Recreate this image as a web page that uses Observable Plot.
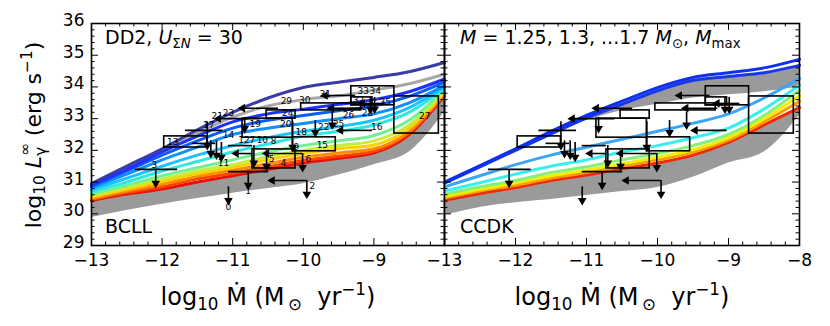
<!DOCTYPE html>
<html><head><meta charset="utf-8">
<script src="https://cdn.jsdelivr.net/npm/d3@7"></script>
<script src="https://cdn.jsdelivr.net/npm/@observablehq/plot@0.6"></script>
<style>
body{margin:0;background:#fff;}
#wrap{position:relative;width:830px;height:326px;font-family:"DejaVu Sans",sans-serif;overflow:hidden;background:#fff;}
#wrap svg{position:absolute;top:0;}
.t{position:absolute;white-space:nowrap;color:#000;line-height:1;font-family:"DejaVu Sans",sans-serif;}
.sb{font-size:70%;vertical-align:-0.3em;}
.sp{font-size:70%;vertical-align:0.55em;}
</style></head><body><div id="wrap"></div>
<script>
// ---------- data ----------
const mdot = [-13, -12.5, -12, -11.5, -11, -10.5, -10, -9.5, -9, -8.5, -8];
const xTickLabelsLeft = [-13, -12, -11, -10, -9];
const xTickLabelsRight = [-13, -12, -11, -10, -9, -8];
const yTickLabels = [29, 30, 31, 32, 33, 34, 35, 36];

// BCLL panel curves (log10 L at each mdot)
const bcllColors = ["#e81008", "#ff4400", "#ff8c00", "#ffd000", "#c4f03c", "#74f094", "#30e8e0", "#18c4ff", "#1090ff", "#0a5cff", "#2030ff", "#3b3ba6"];
const bcll0 = [30.42, 30.62, 30.78, 31.00, 31.20, 31.40, 31.60, 31.75, 31.92, 32.50, 33.72];
const bcll1 = [30.45, 30.67, 30.85, 31.10, 31.28, 31.48, 31.68, 31.82, 31.97, 32.55, 33.76];
const bcll2 = [30.48, 30.72, 30.93, 31.18, 31.37, 31.58, 31.78, 31.92, 32.05, 32.60, 33.80];
const bcll3 = [30.53, 30.78, 31.02, 31.27, 31.47, 31.70, 31.90, 32.05, 32.17, 32.70, 33.84];
const bcll4 = [30.57, 30.84, 31.10, 31.35, 31.55, 31.80, 32.00, 32.15, 32.30, 32.80, 33.88];
const bcll5 = [30.62, 30.90, 31.20, 31.45, 31.70, 31.95, 32.15, 32.30, 32.47, 32.95, 33.92];
const bcll6 = [30.70, 31.00, 31.35, 31.65, 31.95, 32.20, 32.45, 32.60, 32.80, 33.20, 33.95];
const bcll7 = [30.76, 31.12, 31.50, 31.85, 32.15, 32.40, 32.60, 32.75, 32.95, 33.35, 34.00];
const bcll8 = [30.82, 31.25, 31.70, 32.10, 32.50, 32.70, 32.85, 33.00, 33.15, 33.50, 34.05];
const bcll9 = [30.87, 31.35, 31.85, 32.30, 32.70, 32.95, 33.10, 33.25, 33.40, 33.70, 34.15];
const bcll10 = [30.90, 31.40, 31.95, 32.45, 32.90, 33.15, 33.30, 33.45, 33.60, 33.85, 34.25];
const bcll11 = [30.95, 31.50, 32.05, 32.65, 33.20, 33.65, 33.98, 34.15, 34.30, 34.48, 34.77];
const bcllGray = [30.92, 31.45, 32.00, 32.55, 33.05, 33.40, 33.60, 33.72, 33.90, 34.10, 34.40];
const bcllBandLow = [29.88, 30.10, 30.30, 30.48, 30.65, 30.80, 30.95, 31.22, 31.55, 31.95, 33.20];

// CCDK panel curves
const ccdkColors = ["#f02a00", "#ff9a00", "#f0f000", "#86f07a", "#3aeef0", "#3aa6f5", "#1838e8", "#1030f0"];
const ccdk0 = [30.43, 30.64, 30.83, 31.05, 31.22, 31.42, 31.60, 31.85, 32.25, 32.80, 33.35];
const ccdk1 = [30.50, 30.72, 30.90, 31.12, 31.30, 31.50, 31.70, 31.95, 32.32, 32.90, 33.55];
const ccdk2 = [30.55, 30.77, 30.97, 31.20, 31.38, 31.58, 31.78, 32.02, 32.40, 33.00, 33.72];
const ccdk3 = [30.62, 30.85, 31.05, 31.30, 31.48, 31.70, 31.90, 32.15, 32.50, 33.10, 33.90];
const ccdk4 = [30.72, 30.98, 31.25, 31.50, 31.70, 31.95, 32.15, 32.40, 32.70, 33.30, 34.05];
const ccdk5 = [30.85, 31.20, 31.55, 31.85, 32.10, 32.35, 32.60, 32.85, 33.15, 33.65, 34.27];
const ccdk6 = [30.97, 31.48, 32.00, 32.52, 33.02, 33.45, 33.88, 34.20, 34.33, 34.45, 34.68];
const ccdk7 = [31.00, 31.52, 32.05, 32.60, 33.10, 33.55, 33.98, 34.30, 34.45, 34.60, 34.87];
const ccdkBandLow = [29.95, 30.20, 30.35, 30.45, 30.58, 30.70, 30.83, 31.15, 31.60, 31.95, 33.10];
const ccdkUpperBandLow = [null, null, null, null, 32.95, 33.25, 33.45, 33.65, 33.75, 33.85, 34.00];

// observational sources: boxes [mdot1, mdot2, L1, L2]
const boxes = [
  [-11.97, -11.36, 32.09, 32.44],
  [-10.72, -10.11, 31.43, 32.03],
  [-10.15, -9.54, 31.97, 32.41],
  [-8.71, -8.08, 32.53, 33.70],
  [-9.32, -8.71, 33.42, 34.02],
  [-9.32, -9.02, 33.42, 33.67],
  [-10.52, -10.11, 33.00, 33.26],
  [-10.86, -10.15, 32.40, 33.00],
  [-10.03, -9.18, 33.26, 33.48]
];
// mdot ranges [mdot1, mdot2, L]
const hbars = [
  [-12.38, -11.78, 31.40],
  [-11.06, -10.49, 31.33],
  [-11.67, -11.14, 32.63],
  [-11.57, -11.24, 32.22],
  [-11.06, -10.72, 32.15]
];
// mdot upper limits [mdot, arrow end, L]
const leftArrows = [
  [-9.95, -10.44, 31.05],
  [-10.01, -10.52, 31.90],
  [-9.02, -9.47, 32.63],
  [-9.26, -9.69, 33.73],
  [-9.15, -9.60, 33.33],
  [-10.35, -10.86, 33.33],
  [-10.60, -11.20, 33.00],
  [-10.72, -10.95, 31.90],
  [-8.84, -9.16, 33.48]
];
// L upper limits [mdot, L, arrow end]
const downArrows = [
  [-11.06, 30.85, 30.42],
  [-10.78, 31.33, 30.90],
  [-9.95, 31.05, 30.62],
  [-12.09, 31.40, 30.96],
  [-10.52, 32.00, 31.50],
  [-10.01, 31.90, 31.46],
  [-10.70, 32.15, 31.60],
  [-11.16, 32.25, 31.78],
  [-11.36, 32.90, 32.15],
  [-11.31, 32.30, 31.90],
  [-11.23, 32.30, 31.85],
  [-10.83, 33.04, 32.69],
  [-9.83, 32.94, 32.56],
  [-9.59, 33.20, 32.80],
  [-9.05, 33.67, 33.30],
  [-8.99, 33.67, 33.30],
  [-10.15, 32.90, 32.10]
];
// source numbers [text, mdot, L]
const srcLabels = [
  ["0", -11.06, 30.20], ["1", -10.78, 30.70], ["2", -9.87, 30.86], ["3", -12.11, 31.55],
  ["4", -10.28, 31.59], ["5", -10.45, 31.71], ["6", -9.93, 31.71], ["7", -10.72, 32.31],
  ["8", -10.42, 32.30], ["9", -10.10, 32.09], ["10", -10.58, 32.31], ["11", -11.13, 31.59],
  ["12", -10.84, 32.33], ["13", -11.85, 32.25], ["14", -11.06, 32.47], ["15", -9.73, 32.15],
  ["16", -8.96, 32.72], ["17", -11.34, 32.79], ["18", -10.03, 32.56], ["19", -10.68, 32.82],
  ["20", -10.25, 32.84], ["21", -11.22, 33.07], ["22", -9.71, 32.72], ["23", -11.06, 33.16],
  ["24", -10.22, 33.17], ["25", -9.50, 32.82], ["26", -9.36, 33.10], ["27", -8.28, 33.07],
  ["28", -9.09, 33.16], ["29", -10.24, 33.54], ["30", -9.98, 33.57], ["31", -9.69, 33.76],
  ["32", -9.22, 33.57], ["33", -9.15, 33.86], ["34", -8.98, 33.86], ["35", -8.84, 33.51]
];

// ---------- drawing ----------
const H = 326, MT = 23, MB = 81;
const wrap = document.getElementById("wrap");

function panel({left, width, mL, mR, curves, colors, bandLow, grayLines, upperBand, yLabels, xLabels, labels}) {
  const pxX = (width - mL - mR) / 5, pxY = (H - MT - MB) / 7;
  const maj = 7, mnr = 3.5;
  const xMaj = d3.range(-13, -7.99, 1);
  const xMin = d3.range(0, 26).map(i => -13 + i * 0.2).filter(v => Math.abs(v - Math.round(v)) > 1e-6);
  const yMaj = d3.range(29, 36.01, 1);
  const yMin = d3.range(0, 36).map(i => 29 + i * 0.2).filter(v => Math.abs(v - Math.round(v)) > 1e-6);
  const bot = curves[0];
  const marks = [
    Plot.areaY(mdot, {x: d => d, y1: (d, i) => bandLow[i], y2: (d, i) => bot[i] - 0.02, fill: "#9a9a9a", curve: "monotone-x"})
  ];
  if (upperBand) {
    marks.push(Plot.areaY(mdot, {x: d => d, y1: (d, i) => upperBand.low[i], y2: (d, i) => upperBand.high[i], fill: "#9a9a9a", curve: "monotone-x", filter: (d, i) => upperBand.low[i] != null}));
  }
  for (const g of grayLines) marks.push(Plot.line(mdot, {x: d => d, y: (d, i) => g[i], stroke: "#a8a8a8", strokeWidth: 3, curve: "monotone-x"}));
  curves.forEach((c, k) => marks.push(Plot.line(mdot, {x: d => d, y: (d, i) => c[i], stroke: colors[k], strokeWidth: 3, curve: "monotone-x"})));
  // sources
  marks.push(
    Plot.rect(boxes, {x1: d => d[0], x2: d => d[1], y1: d => d[2], y2: d => d[3], fill: "none", stroke: "black", strokeWidth: 1.6}),
    Plot.ruleY(hbars, {y: d => d[2], x1: d => d[0], x2: d => d[1], stroke: "black", strokeWidth: 1.6}),
    Plot.ruleY(leftArrows, {y: d => d[2], x1: d => d[0], x2: d => d[1], stroke: "black", strokeWidth: 1.6}),
    Plot.dot(leftArrows, {x: d => d[1], y: d => d[2], symbol: "triangle", rotate: -90, r: 3.2, fill: "black", stroke: "none"}),
    Plot.ruleX(downArrows, {x: d => d[0], y1: d => d[1], y2: d => d[2], stroke: "black", strokeWidth: 1.6}),
    Plot.dot(downArrows, {x: d => d[0], y: d => d[2], symbol: "triangle", rotate: 180, r: 3.2, fill: "black", stroke: "none"})
  );
  if (labels) marks.push(Plot.text(srcLabels, {x: d => d[1], y: d => d[2], text: d => d[0], fontSize: 9, fill: "black"}));
  // frame and inward ticks
  marks.push(
    Plot.frame({stroke: "black", strokeWidth: 1.6}),
    Plot.ruleX(xMaj, {x: d => d, y1: 29, y2: 29 + maj / pxY, stroke: "black"}),
    Plot.ruleX(xMaj, {x: d => d, y1: 36, y2: 36 - maj / pxY, stroke: "black"}),
    Plot.ruleX(xMin, {x: d => d, y1: 29, y2: 29 + mnr / pxY, stroke: "black"}),
    Plot.ruleX(xMin, {x: d => d, y1: 36, y2: 36 - mnr / pxY, stroke: "black"}),
    Plot.ruleY(yMaj, {y: d => d, x1: -13, x2: -13 + maj / pxX, stroke: "black"}),
    Plot.ruleY(yMaj, {y: d => d, x1: -8, x2: -8 - maj / pxX, stroke: "black"}),
    Plot.ruleY(yMin, {y: d => d, x1: -13, x2: -13 + mnr / pxX, stroke: "black"}),
    Plot.ruleY(yMin, {y: d => d, x1: -8, x2: -8 - mnr / pxX, stroke: "black"}),
    Plot.axisX(xLabels, {tickSize: 0, tickPadding: 8, label: null})
  );
  if (yLabels) marks.push(Plot.axisY(yLabels, {tickSize: 0, tickPadding: 7, label: null, anchor: "left", dy: -3}));
  const svg = Plot.plot({
    width, height: H, marginLeft: mL, marginRight: mR, marginTop: MT, marginBottom: MB,
    x: {domain: [-13, -8]},
    y: {domain: [29, 36], axis: yLabels ? undefined : null},
    style: {background: "transparent", fontSize: "17px", fontFamily: "DejaVu Sans, sans-serif", overflow: "visible"},
    marks
  });
  svg.style.left = left + "px";
  wrap.appendChild(svg);
}

panel({left: 0, width: 455, mL: 91, mR: 11,
  curves: [bcll0, bcll1, bcll2, bcll3, bcll4, bcll5, bcll6, bcll7, bcll8, bcll9, bcll10, bcll11],
  colors: bcllColors, bandLow: bcllBandLow, grayLines: [bcllGray], upperBand: null,
  yLabels: yTickLabels, xLabels: xTickLabelsLeft, labels: true});
panel({left: 400, width: 430, mL: 44, mR: 31,
  curves: [ccdk0, ccdk1, ccdk2, ccdk3, ccdk4, ccdk5, ccdk6, ccdk7],
  colors: ccdkColors, bandLow: ccdkBandLow, grayLines: [],
  upperBand: {low: ccdkUpperBandLow, high: ccdk6.map(v => v - 0.05)},
  yLabels: null, xLabels: xTickLabelsRight, labels: false});

// ---------- text ----------
function addText(html, css) {
  const d = document.createElement("div");
  d.className = "t";
  d.innerHTML = html;
  Object.assign(d.style, css);
  wrap.appendChild(d);
  return d;
}
addText('DD2, <i>U</i><span class="sb">Σ<i>N</i></span> = 30', {left: "105px", top: "28px", fontSize: "19px"});
addText('BCLL', {left: "105px", top: "217px", fontSize: "19px"});
addText('<i>M</i> = 1.25, 1.3, ...1.7 <i>M</i><span class="sb">⊙</span>, <i>M</i><span class="sb">max</span>', {left: "460px", top: "28px", fontSize: "19px"});
addText('CCDK', {left: "460px", top: "217px", fontSize: "19px"});
const xt = 'log<span class="sb">10</span> Ṁ (M<span class="sb">&thinsp;⊙</span>&nbsp; yr<span class="sp">−1</span>)';
addText(xt, {left: "268px", top: "297px", fontSize: "24px", transform: "translate(-50%,-50%)"});
addText(xt, {left: "622px", top: "297px", fontSize: "24px", transform: "translate(-50%,-50%)"});
addText('log<span class="sb">10</span> <i>L</i><span style="display:inline-block;vertical-align:-0.35em;font-size:70%;line-height:1.05;text-align:left"><span style="display:block">∞</span><span style="display:block">γ</span></span> (erg s<span class="sp">−1</span>)',
  {left: "33px", top: "135px", fontSize: "22px", transform: "translate(-50%,-50%) rotate(-90deg)"});
</script>
</body></html>
